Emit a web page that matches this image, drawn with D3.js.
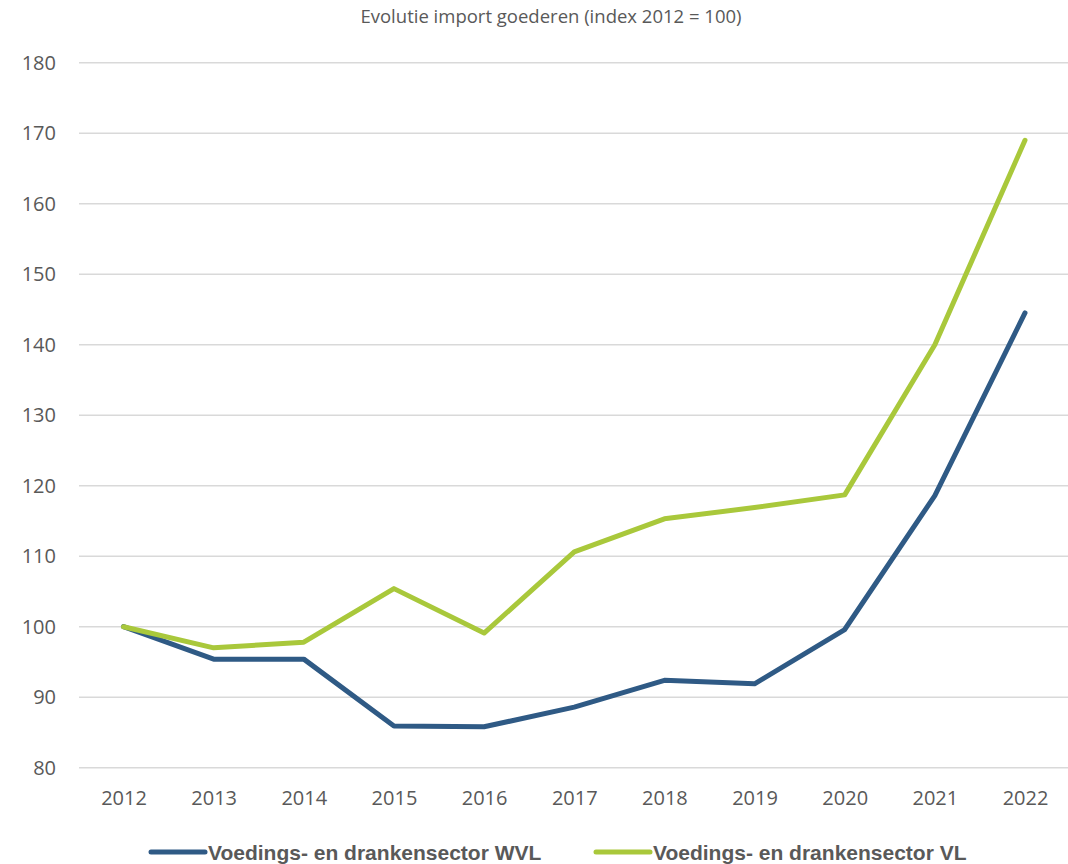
<!DOCTYPE html>
<html>
<head>
<meta charset="utf-8">
<script src="https://cdn.jsdelivr.net/npm/d3@7"></script>
<style>
  html, body { margin: 0; padding: 0; background: #fff; }
  svg { display: block; }
</style>
</head>
<body>
<svg id="chart" width="1068" height="864"></svg>
<script>
// Import index per year (2012 = 100)
const years = ["2012","2013","2014","2015","2016","2017","2018","2019","2020","2021","2022"];
const seriesWVL = [100, 95.4, 95.4, 85.9, 85.8, 88.6, 92.4, 91.9, 99.6, 118.6, 144.5];
const seriesVL  = [100, 97.0, 97.8, 105.4, 99.1, 110.6, 115.3, 116.9, 118.7, 140.0, 169.0];
const yTicks = [80, 90, 100, 110, 120, 130, 140, 150, 160, 170, 180];
const seriesNames = ["Voedings- en drankensector WVL", "Voedings- en drankensector VL"];
const seriesColors = ["#2F5A85", "#A9C83B"];

const svg = d3.select("#chart");
const textColor = "#595959";
const font = "Open Sans, Liberation Sans, sans-serif";

const x = d3.scalePoint().domain(years).range([123.5, 1025]);
const y = d3.scaleLinear().domain([80, 180]).range([767.7, 62.7]);

// Title
svg.append("text")
  .attr("x", 551).attr("y", 23)
  .attr("text-anchor", "middle")
  .attr("font-family", font).attr("font-size", 18.5)
  .attr("fill", textColor)
  .text("Evolutie import goederen (index 2012 = 100)");

// Horizontal gridlines
svg.append("g").selectAll("line")
  .data(yTicks).join("line")
  .attr("x1", 79).attr("x2", 1068)
  .attr("y1", d => y(d)).attr("y2", d => y(d))
  .attr("stroke", "#D9D9D9").attr("stroke-width", 1.5);

// Y axis labels
const yAxis = svg.append("g")
  .attr("transform", "translate(56,0)")
  .call(d3.axisLeft(y).tickValues(yTicks).tickSize(0).tickPadding(0));
yAxis.select(".domain").remove();
yAxis.selectAll("text")
  .attr("font-family", font).attr("font-size", 20)
  .attr("fill", textColor);

// X axis labels
const xAxis = svg.append("g")
  .attr("transform", "translate(0,791)")
  .call(d3.axisBottom(x).tickSize(0).tickPadding(0));
xAxis.select(".domain").remove();
xAxis.selectAll("text")
  .attr("font-family", font).attr("font-size", 20)
  .attr("fill", textColor);

// Lines
const line = d3.line().x((d, i) => x(years[i])).y(d => y(d));
[seriesWVL, seriesVL].forEach((s, k) => {
  svg.append("path")
    .datum(s)
    .attr("d", line)
    .attr("fill", "none")
    .attr("stroke", seriesColors[k])
    .attr("stroke-width", 5)
    .attr("stroke-linejoin", "round")
    .attr("stroke-linecap", "round");
});

// Legend
const legendX = [151, 596];
seriesNames.forEach((name, k) => {
  const g = svg.append("g").attr("transform", `translate(${legendX[k]},852)`);
  g.append("line")
    .attr("x1", 0).attr("x2", 54).attr("y1", 0).attr("y2", 0)
    .attr("stroke", seriesColors[k]).attr("stroke-width", 5)
    .attr("stroke-linecap", "round");
  g.append("text")
    .attr("x", 57).attr("y", 7.5)
    .attr("font-family", "Liberation Sans Narrow, Liberation Sans, sans-serif")
    .attr("font-weight", "bold").attr("font-size", 21)
    .attr("fill", textColor)
    .text(name);
});
</script>
</body>
</html>
